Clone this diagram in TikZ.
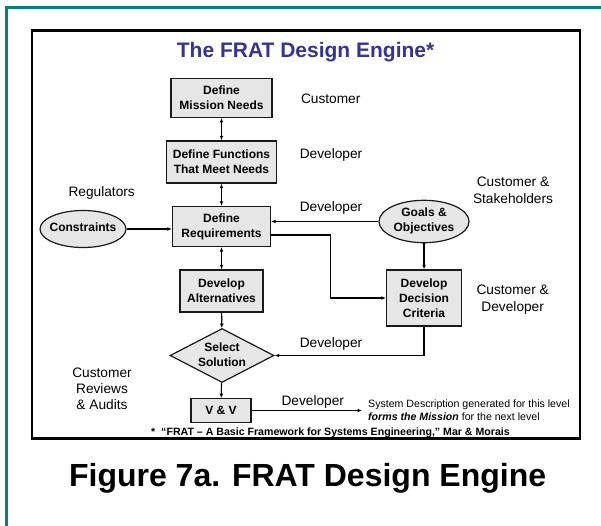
\documentclass[tikz,border=0pt]{standalone}
\usepackage{fontspec}
\setmainfont{Liberation Sans}
\usetikzlibrary{shapes.geometric,arrows.meta}
\definecolor{framec}{HTML}{008080}
\definecolor{titleblue}{HTML}{333399}
\definecolor{boxgray}{HTML}{E6E6E6}
\newcommand\zw[1]{\makebox[0pt]{\begin{tabular}{@{}c@{}}#1\end{tabular}}}
\begin{document}
\begin{tikzpicture}[x=1pt,y=-1pt,
  boxtxt/.style={font=\fontsize{12}{15}\selectfont\bfseries},
  stepbox/.style={boxtxt, draw=black!90, line width=1.2pt, fill=boxgray, align=center, inner sep=0pt},
  oval/.style={boxtxt, ellipse, draw=black!90, line width=1.2pt, fill=boxgray, inner sep=0pt},
  dia/.style={boxtxt, diamond, draw=black!90, line width=1.2pt, fill=boxgray, inner sep=0pt},
  lbl/.style={font=\fontsize{13.7}{16.3}\selectfont, align=center, inner sep=0pt},
  conn/.style={line width=1.1pt, -{Latex[length=4.5pt,width=3.8pt]}},
  dconn/.style={line width=1.1pt, {Latex[length=4.5pt,width=3.8pt]}-{Latex[length=4.5pt,width=3.8pt]}},
]
\useasboundingbox (0,0) rectangle (601,526);
% frames
\draw[framec, line width=2.7pt] (6.4,526) -- (6.4,7.3) -- (601,7.3);
\draw[line width=2.7pt] (32,30.3) rectangle (580,438.5);
% title
\node[anchor=base, inner sep=0pt, text=titleblue, font=\fontsize{21}{25}\selectfont\bfseries] (title) at (305.6,57.3) {The FRAT Design Engine*};
% boxes
\node[stepbox, minimum width=101pt, minimum height=39pt] (mission) at (221.5,97.8) {Define\\Mission Needs};
\node[stepbox, minimum width=110pt, minimum height=42pt] (func) at (221.5,162) {Define Functions\\That Meet Needs};
\node[stepbox, minimum width=98pt, minimum height=40pt] (req) at (221.5,226.5) {Define\\Requirements};
\node[stepbox, minimum width=83pt, minimum height=42pt] (alt) at (221.5,291) {Develop\\Alternatives};
\node[stepbox, minimum width=75pt, minimum height=56pt] (crit) at (424,298) {Develop\\Decision\\Criteria};
\node[dia, minimum width=104pt, minimum height=54pt] (select) at (222,355.5) {\zw{Select\\Solution}};
\node[stepbox, minimum width=60pt, minimum height=23.5pt] (vv) at (221,410.5) {V \& V};
\node[oval, minimum width=86pt, minimum height=37pt] (cons) at (83,229) {\zw{Constraints}};
\node[oval, minimum width=90pt, minimum height=42pt] (goals) at (424,221.5) {\zw{Goals \&\\Objectives}};
% connectors
\draw[dconn] (mission) -- (func);
\draw[dconn] (func) -- (req);
\draw[dconn] (req) -- (alt);
\draw[conn] (alt) -- (select);
\draw[conn] (select) -- (vv);
\draw[conn] (cons.east) -- (req.west |- cons.east);
\draw[conn] (goals.west) -- (req.east |- goals.west);
\coordinate (bend1) at (330.5,0);
\draw[conn] ([yshift=-8.5pt]req.east) -| (bend1 |- crit.west) -- (crit.west);
\draw[conn] (goals.south) -- (crit.north);
\draw[conn] (crit.south) |- (select.east);
\coordinate (vvend) at (362,410.5);
\draw[conn] (vv.east) -- (vvend);
% labels
\node[lbl, anchor=base] (cust1) at (330.7,103.2) {Customer};
\node[lbl, anchor=base] (dev1) at (331,158.4) {Developer};
\node[lbl, anchor=base] (dev2) at (331,211.9) {Developer};
\node[lbl, anchor=base] (dev3) at (331,347.6) {Developer};
\node[lbl, anchor=base] (dev4) at (312.8,405.9) {Developer};
\node[lbl, anchor=base] (reg) at (101.7,196.6) {Regulators};
\node[lbl, font=\fontsize{13.7}{16.6}\selectfont] (custst) at (513,190) {Customer \&\\Stakeholders};
\node[lbl, font=\fontsize{13.7}{16.6}\selectfont] (custdev) at (512.7,299.5) {Customer \&\\Developer};
\node[lbl, font=\fontsize{13.7}{15.9}\selectfont] (custrev) at (102,389) {Customer\\Reviews\\\& Audits};
\node[anchor=north west, inner sep=0pt, align=left, font=\fontsize{10.6}{13.4}\selectfont] (sysdesc) at (368,399.4) {System Description generated for this level\\\textbf{\textit{forms the Mission}} for the next level};
\node[anchor=base, inner sep=0pt, font=\fontsize{10.6}{13}\selectfont\bfseries] (foot) at (330.5,435.5) {*\ \ “FRAT – A Basic Framework for Systems Engineering,” Mar \& Morais};
\node[anchor=base, inner sep=0pt, font=\fontsize{32}{38}\selectfont\bfseries] (caption) at (307.6,486.7) {Figure 7a. FRAT Design Engine};
\end{tikzpicture}
\end{document}
